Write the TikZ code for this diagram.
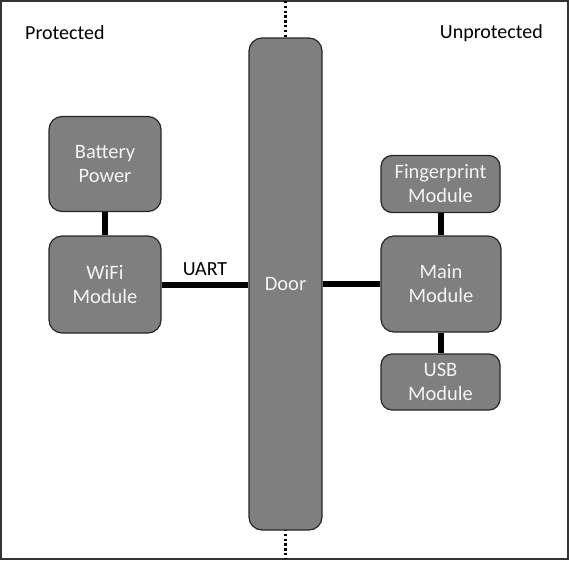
\documentclass[tikz,border=0pt]{standalone}
\usepackage{fontspec}
\setmainfont{Carlito}
\definecolor{boxfill}{HTML}{7F7F7F}
\definecolor{boxtext}{HTML}{F4F4F4}
\begin{document}
\begin{tikzpicture}[x=1pt,y=-1pt,
  blk/.style={draw=black!85, line width=1.2pt, fill=boxfill, rounded corners=13pt,
    text=boxtext, inner sep=0pt, align=center, font=\fontsize{20.5}{24}\selectfont},
  wire/.style={line width=6pt, black},
  lbl/.style={inner sep=0pt, font=\fontsize{20}{24}\selectfont, text=black}]
\useasboundingbox (0,0) rectangle (569,560);
\draw[line width=1.2pt, black!80] (1,1) rectangle (568,559);
\coordinate (dtop) at (285.5,1);
\coordinate (dbot) at (285.5,559);
\draw[line width=2.6pt, dash pattern=on 2.4pt off 2.4pt] (dtop) -- (dbot);
\node[blk, minimum width=73pt, minimum height=492pt] (door) at (285.5,284) {Door};
\node[blk, minimum width=112pt, minimum height=95pt] (bat) at (105,164) {Battery\\Power};
\node[blk, minimum width=112pt, minimum height=97pt] (wifi) at (105,284.5) {WiFi\\Module};
\node[blk, rounded corners=11pt, minimum width=119pt, minimum height=57pt] (fp) at (440.5,184) {Fingerprint\\Module};
\node[blk, minimum width=120pt, minimum height=96pt] (main) at (441,284) {Main\\Module};
\node[blk, rounded corners=11pt, minimum width=119pt, minimum height=56pt] (usb) at (440.5,382) {USB\\Module};
\draw[wire] (bat.south) -- (wifi.north);
\draw[wire] (wifi.east) -- (wifi.east -| door.west) node[lbl, midway, above=6pt] {UART};
\draw[wire] (main.west -| door.east) -- (main.west);
\draw[wire] (fp.south) -- (fp.south |- main.north);
\draw[wire] (usb.north |- main.south) -- (usb.north);
\node[lbl, anchor=west] (prot) at (25,33) {Protected};
\node[lbl, anchor=east] (unprot) at (543,33) {Unprotected};
\end{tikzpicture}
\end{document}
